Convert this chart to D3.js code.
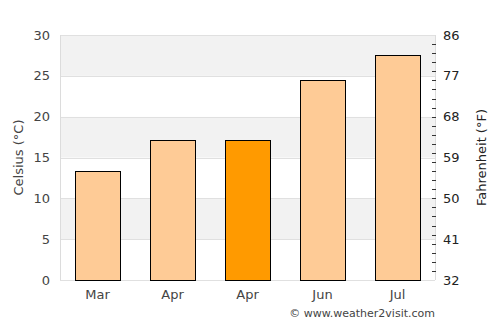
<!DOCTYPE html>
<html>
<head>
<meta charset="utf-8">
<script src="https://cdn.jsdelivr.net/npm/d3@7"></script>
<style>
  body { margin: 0; background: #fff; }
  svg text { font-family: "DejaVu Sans", sans-serif; }
</style>
</head>
<body>
<script>
// data
var months = ["Mar", "Apr", "Apr", "Jun", "Jul"];
var celsius = [13.3, 17.1, 17.1, 24.5, 27.5];
var highlight = [false, false, true, false, false];
var cTicks = [0, 5, 10, 15, 20, 25, 30];
var fTicks = [32, 41, 50, 59, 68, 77, 86];

var margin = {top: 35, right: 65, bottom: 45, left: 60},
    width = 500 - margin.left - margin.right,
    height = 325 - margin.top - margin.bottom;

var svg = d3.select("body").append("svg")
    .attr("width", 500)
    .attr("height", 325)
  .append("g")
    .attr("transform", "translate(" + margin.left + "," + margin.top + ")");

var x = d3.scaleBand().domain(d3.range(months.length)).range([0, width]).paddingInner(0.4).paddingOuter(0.2);
var y = d3.scaleLinear().domain([0, 30]).range([height, 0]);
var yF = d3.scaleLinear().domain([32, 86]).range([height, 0]);

// alternating bands
svg.selectAll(".band")
    .data(d3.range(0, 30, 5))
    .enter().append("rect")
    .attr("x", 0)
    .attr("width", width)
    .attr("y", function(d) { return y(d + 5); })
    .attr("height", function(d) { return y(d) - y(d + 5); })
    .attr("fill", function(d) { return (d / 5) % 2 === 1 ? "#f2f2f2" : "#fff"; });

// gridlines
svg.selectAll(".grid")
    .data(cTicks)
    .enter().append("line")
    .attr("x1", 0).attr("x2", width)
    .attr("y1", function(d) { return Math.round(y(d)) + 0.5; })
    .attr("y2", function(d) { return Math.round(y(d)) + 0.5; })
    .attr("stroke", "#e0e0e0");

// frame sides
svg.append("line").attr("x1", 0.5).attr("x2", 0.5).attr("y1", 0).attr("y2", height).attr("stroke", "#dcdcdc");
svg.append("line").attr("x1", width + 0.5).attr("x2", width + 0.5).attr("y1", 0).attr("y2", height).attr("stroke", "#dcdcdc");

// bars
svg.selectAll(".bar")
    .data(celsius)
    .enter().append("rect")
    .attr("x", function(d, i) { return Math.round(x(i)) + 0.5; })
    .attr("width", Math.round(x.bandwidth()))
    .attr("y", function(d) { return Math.round(y(d)) + 0.5; })
    .attr("height", function(d) { return height - Math.round(y(d)); })
    .attr("fill", function(d, i) { return highlight[i] ? "#ff9a00" : "#fecb96"; })
    .attr("stroke", "#000")
    .attr("stroke-width", 1);

// left axis labels
svg.selectAll(".cl")
    .data(cTicks)
    .enter().append("text")
    .attr("x", -10)
    .attr("y", function(d) { return y(d); })
    .attr("dy", "0.35em")
    .attr("text-anchor", "end")
    .attr("fill", "#444")
    .style("font-size", "13px")
    .text(function(d) { return d; });

// right axis minor ticks
svg.selectAll(".ft")
    .data(d3.range(34, 86, 2))
    .enter().append("line")
    .attr("x1", width - 3).attr("x2", width + 1)
    .attr("y1", function(d) { return Math.round(yF(d)) + 0.5; })
    .attr("y2", function(d) { return Math.round(yF(d)) + 0.5; })
    .attr("stroke", "#333");

svg.selectAll(".fl")
    .data(fTicks)
    .enter().append("text")
    .attr("x", width + 8)
    .attr("y", function(d) { return yF(d); })
    .attr("dy", "0.35em")
    .attr("text-anchor", "start")
    .attr("fill", "#222")
    .style("font-size", "13px")
    .text(function(d) { return d; });

// x labels
svg.selectAll(".xl")
    .data(months)
    .enter().append("text")
    .attr("x", function(d, i) { return x(i) + x.bandwidth() / 2; })
    .attr("y", height + 19)
    .attr("text-anchor", "middle")
    .attr("fill", "#444")
    .style("font-size", "13px")
    .text(function(d) { return d; });

// axis titles
svg.append("text")
    .attr("transform", "rotate(-90)")
    .attr("x", -height / 2)
    .attr("y", -37)
    .attr("text-anchor", "middle")
    .attr("fill", "#444")
    .style("font-size", "13px")
    .text("Celsius (°C)");

svg.append("text")
    .attr("transform", "rotate(-90)")
    .attr("x", -height / 2)
    .attr("y", width + 51)
    .attr("text-anchor", "middle")
    .attr("fill", "#222")
    .style("font-size", "13px")
    .text("Fahrenheit (°F)");

// credit
svg.append("text")
    .attr("x", width)
    .attr("y", height + 37)
    .attr("text-anchor", "end")
    .attr("fill", "#444")
    .style("font-size", "11px")
    .text("© www.weather2visit.com");
</script>
</body>
</html>
